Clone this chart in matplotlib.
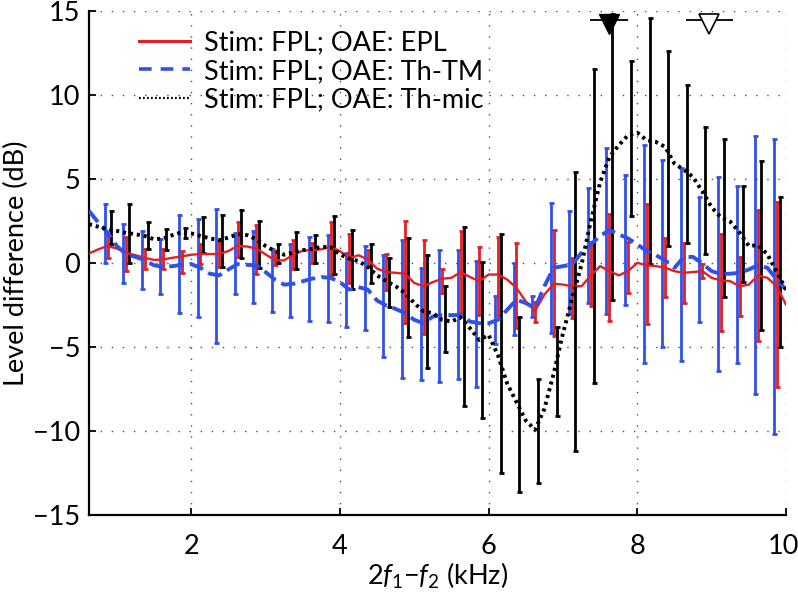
import numpy as np
import matplotlib
matplotlib.use("Agg")
import matplotlib.pyplot as plt
import matplotlib.transforms as mtrans
from matplotlib.lines import Line2D

plt.rcParams['font.family'] = ['Lato', 'DejaVu Sans']
plt.rcParams['mathtext.fontset'] = 'custom'
plt.rcParams['mathtext.rm'] = 'Lato'
plt.rcParams['mathtext.it'] = 'Lato:italic'

# --- curves (kHz grid, 0.125 kHz step) ---
f_line = np.arange(0.625, 10.0001, 0.125)
red_line = [0.55, 0.8, 1.0, 0.85, 0.6, 0.45, 0.3, 0.17, 0.2, 0.3, 0.38, 0.48,
            0.52, 0.52, 0.52, 0.7, 1.0, 0.97, 0.85, 0.5, 0.15, 0.14, 0.5, 0.72,
            0.76, 0.8, 0.95, 0.7, 0.27, 0.45, 0.2, -0.35, -0.55, -0.6, -0.65, -1.2,
            -1.4, -1.15, -0.95, -0.9, -0.55, -0.85, -1.1, -0.7, -0.7, -1.0, -1.5, -2.3,
            -2.85, -1.9, -1.25, -1.3, -1.4, -1.4, -0.75, -0.2, -0.5, -0.75, -0.5, 0.0,
            -0.15, -0.2, -0.3, -0.5, -0.6, -0.55, -0.5, -0.9, -1.05, -1.1, -1.4, -1.3,
            -0.75, -0.9, -1.4, -2.5]
blue_line = [3.1, 2.4, 1.8, 1.0, 0.5, 0.35, 0.15, -0.15, -0.25, -0.2, -0.12, -0.08,
             -0.3, -0.65, -0.75, -0.4, -0.08, -0.12, -0.15, -0.55, -1.0, -1.3, -1.25, -1.1,
             -0.95, -0.85, -0.9, -1.15, -1.6, -1.45, -1.6, -2.25, -2.55, -2.75, -3.0, -3.4,
             -3.6, -3.2, -3.12, -3.12, -3.11, -3.5, -3.6, -3.6, -3.4, -2.8, -2.2, -2.4,
             -2.7, -1.4, -0.3, -0.2, -0.1, 0.6, 1.1, 1.6, 1.95, 1.7, 1.45, 1.1,
             0.7, 0.45, 0.15, -0.3, 0.35, 0.35, -0.05, -0.5, -0.67, -0.65, -0.6, -0.4,
             -0.14, -0.3, -1.0, -1.6]
black_line = [2.3, 2.15, 2.0, 1.9, 1.78, 1.7, 1.6, 1.4, 1.45, 1.65, 1.82, 1.75,
              1.6, 1.45, 1.35, 1.5, 1.7, 1.65, 1.4, 1.0, 0.7, 0.48, 0.6, 0.75,
              0.82, 0.95, 0.93, 0.5, 0.25, 0.1, -0.25, -0.75, -1.1, -1.4, -1.8, -2.4,
              -2.9, -3.0, -3.4, -3.5, -3.25, -3.9, -4.6, -4.3, -5.5, -7.2, -8.3, -9.4,
              -9.95, -8.7, -6.6, -4.2, -2.1, -0.1, 2.5, 4.8, 6.3, 7.0, 7.6, 7.75,
              7.3, 7.2, 6.9, 5.9, 5.55, 5.1, 4.25, 3.3, 2.7, 2.45, 1.8, 1.0,
              1.05, 0.5, -0.55, -1.6]

# --- error bars (bottom / top), 0.25 kHz step ---
f_bar = np.arange(0.875, 9.8751, 0.25)
red_lo = [0.26, -0.48, -0.39, -0.36, -0.63, -0.08, -0.27, 0.36, -0.67, -0.14, -0.39, 0.0,
          -0.73, -1.23, -0.27, -1.63, -3.57, -4.24, -1.82, -3.01, -3.11, -3.11, -3.9, -3.51,
          -4.36, -3.31, -2.58, -3.45, -1.82, -3.65, -2.02, -2.42, -0.93, -4.05, -3.17, -4.64, -7.38]
red_hi = [1.65, 1.55, 0.81, 0.80, 0.71, 1.11, 1.23, 2.44, 2.24, 0.71, 1.35, 1.19,
          2.44, 1.69, 0.76, 0.5, 2.5, 1.35, -0.39, 1.9, 0.95, 1.51, 1.19, -2.32,
          1.95, 0.26, 1.25, 2.9, 1.25, 3.49, 1.49, 1.19, -0.08, 1.71, 0.32, 3.14, 3.63]
blue_lo = [0.0, -1.19, -1.58, -1.86, -3.01, -3.25, -4.8, -1.86, -2.38, -2.92, -3.25, -3.45,
           -3.51, -3.85, -4.0, -5.63, -6.88, -6.98, -7.08, -6.94, -7.42, -4.84, -4.3, -3.21,
           -4.17, -3.05, -2.42, -3.05, -2.52, -5.95, -5.0, -5.83, -3.51, -6.45, -5.99, -7.83, -10.2]
blue_hi = [3.49, 2.3, 1.9, 1.39, 2.84, 2.62, 3.2, 1.75, 1.89, 0.8, 1.1, 1.51,
           1.65, 0.6, 0.99, 0.46, 1.35, -0.33, 0.76, 0.76, 0.1, -1.98, -0.04, -1.96,
           3.57, 3.08, 4.43, 6.85, 5.22, 7.0, 6.11, 5.62, 3.89, 5.12, 4.57, 7.54, 7.35]
black_lo = [1.11, -0.04, 0.83, 0.76, 1.45, 0.56, -0.27, 0.26, -0.33, 0.0, -0.39, 0.0,
            -0.67, -1.58, -1.19, -2.65, -4.44, -6.29, -5.3, -8.53, -9.26, -12.5, -13.63, -13.1,
            -9.13, -11.19, -7.18, -2.22, 2.78, -0.08, 0.99, 1.15, 0.52, -2.02, -1.13, -4.0, -5.0]
black_hi = [3.08, 3.53, 2.42, 2.0, 2.1, 2.7, 2.82, 3.14, 2.48, 1.1, 1.85, 1.65,
            2.78, 1.93, 1.1, 0.26, 1.49, 0.46, -1.39, 2.14, 0.06, 1.71, -3.21, -6.94,
            -3.81, 5.42, 11.53, 14.8, 12.0, 14.58, 12.6, 10.58, 8.06, 7.35, 4.57, 6.07, 3.89]
bar_shift = 0.04

# --- top markers ---
mark_f = [7.62, 8.97]
mark_lo = [7.37, 8.65]
mark_hi = [7.88, 9.29]
mark_y = 14.2

RED = '#e41e26'
BLUE = '#3050e8'
FS = 19.5

fig = plt.figure(figsize=(7.98, 6.09), dpi=100)
ax = fig.add_axes([0.111, 0.155, 0.874, 0.827])


def bars(f, lo, hi, color):
    lo = np.array(lo)
    hi = np.array(hi)
    mid = (lo + hi) / 2
    ax.errorbar(f, mid, yerr=(hi - lo) / 2, fmt='none', ecolor=color,
                elinewidth=2.0, capsize=1.8, capthick=2.0, zorder=2)


bars(f_bar - bar_shift, blue_lo, blue_hi, BLUE)
bars(f_bar, red_lo, red_hi, RED)
bars(f_bar + bar_shift, black_lo, black_hi, 'black')

ax.plot(f_line, red_line, color=RED, lw=1.7, zorder=3)
ax.plot(f_line, blue_line, color=BLUE, lw=2.8, ls='--', zorder=3)
ax.plot(f_line, black_line, color='black', lw=2.8, ls=(0, (0.8, 1.0)), zorder=3)

# top markers with ranges
ax.hlines([mark_y + 0.25] * 2, mark_lo, mark_hi, color='black', lw=1.3, zorder=4)
ax.plot(mark_f[0], mark_y, marker='v', ms=14, color='black', zorder=5, clip_on=False)
ax.plot(mark_f[1], mark_y, marker='v', ms=14, mfc='white', mec='black', mew=1.2,
        zorder=5, clip_on=False)

ax.set_xlim(0.62, 10.0)
ax.set_ylim(-15, 15)
ax.set_xticks([2, 4, 6, 8, 10], ['2', '4', '6', '8', '10'])
ax.set_yticks([-15, -10, -5, 0, 5, 10, 15])
ax.tick_params(direction='in', length=5, width=1.3, labelsize=FS, top=False, right=False)
ax.tick_params(axis='x', pad=14)
ax.tick_params(axis='y', pad=6)
ax.grid(True, color='0.3', lw=1.0, ls=(0, (1, 7)))
for s in ['top', 'right']:
    ax.spines[s].set_visible(False)
for s in ['left', 'bottom']:
    ax.spines[s].set_linewidth(1.6)

# nudge the "10" label a little left so it stays inside the figure
lbl10 = ax.get_xticklabels()[-1]
lbl10.set_transform(lbl10.get_transform()
                    + mtrans.ScaledTranslation(-2.5 / 100, 0, fig.dpi_scale_trans))

ax.set_xlabel(r'2$f_1$$-$$f_2$ (kHz)', fontsize=FS, labelpad=1)
ax.set_ylabel('Level difference (dB)', fontsize=FS, labelpad=3)

handles = [Line2D([], [], color=RED, lw=2.2),
           Line2D([], [], color=BLUE, lw=2.6, ls=(0, (3.5, 2.5))),
           Line2D([], [], color='black', lw=1.6, ls=(0, (0.8, 1.0)))]
labels = ['Stim: FPL; OAE: EPL', 'Stim: FPL; OAE: Th-TM', 'Stim: FPL; OAE: Th-mic']
ax.legend(handles, labels, loc='upper left', bbox_to_anchor=(0.072, 0.962),
          frameon=False, fontsize=FS, borderpad=0, borderaxespad=0,
          handlelength=1.9, handletextpad=0.5, labelspacing=0.14)

fig.savefig('out.png', dpi=100)
